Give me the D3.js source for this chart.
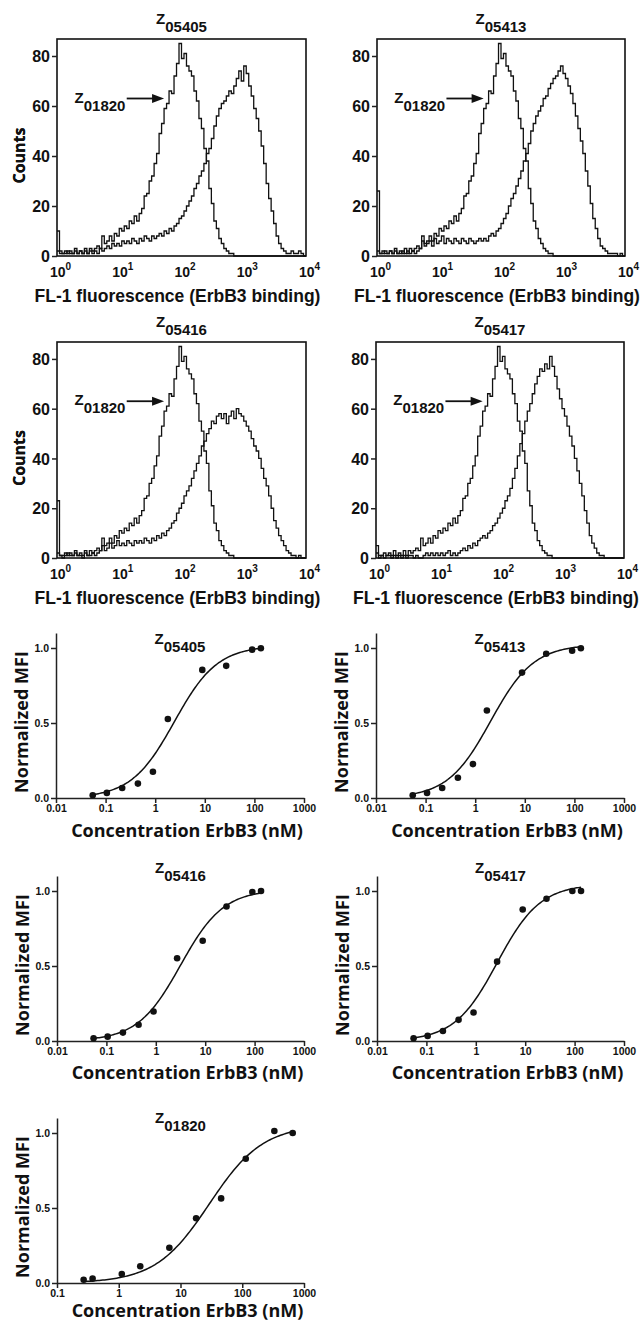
<!DOCTYPE html>
<html>
<head>
<meta charset="utf-8">
<script src="https://cdn.jsdelivr.net/npm/d3@7"></script>
<style>
    body { margin: 0; background: #fff; }
    svg { display: block; }
    .hist-line { fill: none; stroke: #111; stroke-width: 1.3; }
    .frame { fill: none; stroke: #111; stroke-width: 1.6; }
    .fit-line { fill: none; stroke: #111; stroke-width: 1.5; }
    .arial { font-family: "Liberation Sans", Arial, sans-serif; font-weight: bold; fill: #111; }
    .myriad { font-family: "Open Sans", "Noto Sans", sans-serif; font-weight: bold; fill: #111; }
    .axis path, .axis line { stroke: #222; stroke-width: 1.5; }
</style>
</head>
<body>
<svg id="figure" width="643" height="1324"></svg>
<script>
// ---- histogram data: counts per channel, channels every 0.04 decade from 10^0 to 10^4 ----
const binWidth = 0.04;
const decades = [0, 1, 2, 3, 4];
const countTicks = [0, 20, 40, 60, 80];
const countMax = 86.8;

// control binder, shown in all four histograms
const counts01820 = [
    2, 1, 1, 2, 1, 2, 1, 3, 1, 2,
    1, 3, 1, 3, 2, 3, 4, 3, 8, 5,
    6, 8, 6, 9, 8, 11, 10, 12, 11, 14,
    13, 16, 14, 17, 19, 24, 25, 30, 32, 37,
    41, 49, 53, 59, 61, 66, 65, 72, 77, 85,
    79, 81, 76, 74, 72, 66, 62, 55, 51, 43,
    38, 27, 21, 14, 11, 7, 5, 3, 2, 1,
    1, 0, 0, 0, 0, 0, 0, 0, 0, 0,
    0, 0, 0, 0, 0, 0, 0, 0, 0, 0,
    0, 0, 0, 0, 0, 0, 0, 0, 0, 0, 0
];
const counts05405 = [
    10, 2, 1, 1, 2, 1, 1, 2, 1, 2,
    1, 2, 1, 2, 1, 2, 1, 3, 2, 3,
    4, 3, 5, 4, 5, 4, 6, 5, 6, 5,
    7, 6, 5, 7, 6, 8, 7, 6, 8, 7,
    8, 9, 8, 10, 9, 11, 10, 12, 13, 15,
    16, 18, 20, 22, 24, 27, 29, 32, 34, 37,
    41, 43, 47, 52, 56, 59, 61, 62, 64, 66,
    65, 68, 71, 74, 70, 76, 73, 68, 64, 59,
    55, 50, 44, 37, 29, 23, 18, 13, 8, 5,
    3, 2, 1, 1, 2, 1, 1, 2, 1, 0, 0
];
const counts05413 = [
    26, 1, 2, 1, 1, 2, 1, 2, 1, 1,
    2, 1, 2, 1, 2, 1, 2, 3, 6, 4,
    5, 6, 4, 7, 5, 6, 8, 5, 7, 6,
    5, 7, 6, 5, 7, 6, 5, 7, 6, 5,
    6, 7, 6, 7, 6, 8, 9, 8, 10, 11,
    13, 15, 17, 20, 23, 25, 28, 31, 34, 38,
    41, 45, 50, 53, 56, 58, 60, 63, 64, 67,
    69, 71, 72, 74, 76, 73, 71, 68, 65, 61,
    56, 51, 46, 41, 34, 28, 21, 15, 11, 7,
    4, 3, 2, 1, 1, 1, 1, 0, 1, 0, 0
];
const counts05416 = [
    23, 1, 0, 1, 2, 1, 1, 2, 1, 1,
    0, 2, 1, 1, 2, 1, 2, 3, 5, 3,
    4, 6, 4, 5, 7, 5, 6, 5, 7, 6,
    5, 7, 6, 7, 6, 8, 7, 6, 8, 7,
    9, 8, 10, 9, 11, 12, 14, 15, 18, 20,
    22, 25, 27, 29, 32, 35, 38, 41, 45, 47,
    50, 52, 55, 54, 57, 58, 56, 58, 54, 57,
    59, 56, 60, 58, 57, 55, 53, 51, 48, 45,
    43, 40, 36, 32, 29, 25, 20, 15, 12, 9,
    7, 5, 3, 2, 1, 1, 0, 1, 0, 0, 0
];
const counts05417 = [
    5, 0, 1, 0, 1, 1, 0, 1, 0, 1,
    0, 1, 0, 1, 1, 0, 1, 0, 0, 1,
    2, 1, 2, 1, 2, 1, 2, 1, 2, 3,
    1, 2, 1, 2, 3, 4, 3, 5, 4, 6,
    5, 7, 8, 9, 8, 10, 11, 13, 14, 16,
    18, 20, 23, 25, 28, 32, 36, 41, 46, 50,
    55, 59, 62, 66, 70, 73, 76, 75, 78, 76,
    81, 77, 73, 68, 64, 60, 57, 53, 49, 45,
    40, 35, 30, 25, 19, 14, 9, 6, 4, 2,
    1, 1, 0, 0, 0, 0, 0, 0, 0, 0, 0
];

// ---- binding titration data ----
const mfiTicks = [0, 0.5, 1.0];
const concTicksA = [0.01, 0.1, 1, 10, 100, 1000];
const concTicksB = [0.1, 1, 10, 100, 1000];

const conc05405 = [0.055, 0.106, 0.216, 0.448, 0.90, 1.8, 8.9, 27, 90, 135];
const mfi05405 = [0.018, 0.034, 0.067, 0.096, 0.175, 0.527, 0.854, 0.881, 0.989, 0.998];
const conc05413 = [0.055, 0.107, 0.216, 0.448, 0.90, 1.72, 8.8, 27, 90, 135];
const mfi05413 = [0.018, 0.034, 0.067, 0.135, 0.226, 0.583, 0.836, 0.962, 0.982, 0.998];
const conc05416 = [0.055, 0.106, 0.216, 0.448, 0.90, 2.7, 8.9, 27, 90, 135];
const mfi05416 = [0.018, 0.029, 0.056, 0.108, 0.197, 0.552, 0.668, 0.897, 0.993, 1.0];
const conc05417 = [0.055, 0.106, 0.216, 0.448, 0.90, 2.7, 8.9, 27, 90, 135];
const mfi05417 = [0.018, 0.034, 0.067, 0.141, 0.19, 0.529, 0.877, 0.948, 1.0, 1.0];
const conc01820 = [0.27, 0.377, 1.12, 2.23, 6.6, 17.9, 45.5, 114, 331, 656];
const mfi01820 = [0.022, 0.029, 0.06, 0.112, 0.235, 0.432, 0.564, 0.828, 1.013, 1.0];

const svg = d3.select("#figure");

/**
 * Draws one flow cytometry histogram with the control overlaid
 */
function drawHistogram(box, name, sample) {
    const g = svg.append("g");

    const x = d3.scaleLog().domain([1, 1e4]).range([box.left, box.right]);
    const y = d3.scaleLinear().domain([0, countMax]).range([box.bottom, box.top]);

    const toBins = counts => counts.map((c, i) => ({fl: Math.pow(10, i * binWidth), count: c}));
    const line = d3.line()
        .x(d => x(d.fl))
        .y(d => y(d.count))
        .curve(d3.curveStepAfter);

    g.append("path").attr("class", "hist-line").attr("d", line(toBins(counts01820)));
    g.append("path").attr("class", "hist-line").attr("d", line(toBins(sample)));

    g.append("rect")
        .attr("class", "frame")
        .attr("x", box.left).attr("y", box.top)
        .attr("width", box.right - box.left).attr("height", box.bottom - box.top);

    // y axis
    const yAxis = g.append("g")
        .attr("class", "axis")
        .attr("transform", `translate(${box.left},0)`)
        .call(d3.axisLeft(y).tickValues(countTicks).tickSize(5).tickPadding(2));
    yAxis.select(".domain").remove();
    yAxis.selectAll("text")
        .attr("class", "arial")
        .style("font-size", "16px")
        .attr("dy", "0.36em");

    // decade labels with superscripts
    g.selectAll(".decade")
        .data(decades)
        .join("text")
        .attr("class", "decade arial")
        .attr("x", d => x(Math.pow(10, d)) - 7)
        .attr("y", box.bottom + 21)
        .style("font-size", "14px")
        .call(t => {
            t.append("tspan").text("10");
            t.append("tspan").attr("dy", -7).style("font-size", "10px").text(d => d);
        });

    g.append("text")
        .attr("class", "arial")
        .attr("x", (box.left + box.right) / 2 - 4)
        .attr("y", box.bottom + 46)
        .style("font-size", "17.5px")
        .style("text-anchor", "middle")
        .text("FL-1 fluorescence (ErbB3 binding)");

    g.append("text")
        .attr("class", "myriad")
        .attr("transform", "rotate(-90)")
        .attr("x", -((box.top + box.bottom) / 2 + 8))
        .attr("y", 25)
        .style("font-size", "16px")
        .style("text-anchor", "middle")
        .text("Counts");

    // panel title
    const title = g.append("text")
        .attr("class", "arial")
        .attr("x", (box.left + box.right) / 2)
        .attr("y", box.top - 15)
        .style("font-size", "15px")
        .style("text-anchor", "middle");
    title.append("tspan").text("Z");
    title.append("tspan").attr("dy", 8).text(name);

    // arrow pointing at the control histogram
    const ay = y(63);
    const ax1 = x(Math.pow(10, 1.12));
    const ax2 = x(Math.pow(10, 1.72));
    g.append("line")
        .attr("x1", ax1).attr("y1", ay)
        .attr("x2", ax2 - 8).attr("y2", ay)
        .attr("stroke", "#111").attr("stroke-width", 1.8);
    g.append("path")
        .attr("d", `M${ax2},${ay} L${ax2 - 12},${ay - 4.5} L${ax2 - 12},${ay + 4.5} Z`)
        .attr("fill", "#111");
    const label = g.append("text")
        .attr("class", "arial")
        .attr("x", x(Math.pow(10, 1.1)))
        .attr("y", ay + 4)
        .style("font-size", "15px")
        .style("text-anchor", "end");
    label.append("tspan").text("Z");
    label.append("tspan").attr("dy", 8).text("01820");
}

/**
 * least squares fit of a standard-slope dose response curve (bottom 0, Hill slope 1)
 */
function fitDoseResponse(conc, mfi) {
    const lx = conc.map(Math.log10);
    let best = {sse: Infinity};
    for (let top = 0.9; top <= 1.15; top += 0.002) {
        for (let ec = d3.min(lx); ec <= d3.max(lx); ec += 0.005) {
            let sse = 0;
            for (let i = 0; i < lx.length; i++) {
                const r = mfi[i] - top / (1 + Math.pow(10, ec - lx[i]));
                sse += r * r;
            }
            if (sse < best.sse) best = {sse, top, ec};
        }
    }
    return best;
}

/**
 * Draws one binding titration panel
 */
function drawTitration(frame, name, conc, mfi, concTicks) {
    const g = svg.append("g");

    const x = d3.scaleLog()
        .domain([concTicks[0], concTicks[concTicks.length - 1]])
        .range([frame.left, frame.right]);
    const y = d3.scaleLinear().domain([0, 1.1]).range([frame.bottom, frame.top]);

    const xAxis = g.append("g")
        .attr("class", "axis")
        .attr("transform", `translate(0,${frame.bottom})`)
        .call(d3.axisBottom(x).tickValues(concTicks).tickFormat(d3.format("~g")).tickSize(5).tickSizeOuter(0).tickPadding(2));
    xAxis.selectAll("text").attr("class", "arial").style("font-size", "10.5px");

    const yAxis = g.append("g")
        .attr("class", "axis")
        .attr("transform", `translate(${frame.left},0)`)
        .call(d3.axisLeft(y).tickValues(mfiTicks).tickFormat(d3.format(".1f")).tickSize(5).tickSizeOuter(0).tickPadding(2));
    yAxis.selectAll("text").attr("class", "arial").style("font-size", "10.5px");

    const fit = fitDoseResponse(conc, mfi);
    const lo = Math.log10(d3.min(conc));
    const hi = Math.log10(d3.max(conc));
    const curve = d3.range(121).map(i => {
        const lc = lo + i / 120 * (hi - lo);
        return {c: Math.pow(10, lc), v: fit.top / (1 + Math.pow(10, fit.ec - lc))};
    });
    g.append("path")
        .attr("class", "fit-line")
        .attr("d", d3.line().x(d => x(d.c)).y(d => y(d.v))(curve));

    g.selectAll("circle")
        .data(conc.map((c, i) => ({c, v: mfi[i]})))
        .join("circle")
        .attr("cx", d => x(d.c))
        .attr("cy", d => y(d.v))
        .attr("r", 3.3)
        .attr("fill", "#111");

    g.append("text")
        .attr("class", "myriad")
        .attr("x", (frame.left + frame.right) / 2 + 7)
        .attr("y", frame.labelY)
        .style("font-size", "18px")
        .style("text-anchor", "middle")
        .text("Concentration ErbB3 (nM)");

    g.append("text")
        .attr("class", "myriad")
        .attr("transform", "rotate(-90)")
        .attr("x", -(frame.bottom - 76))
        .attr("y", frame.left - 28)
        .style("font-size", "18px")
        .style("text-anchor", "middle")
        .text("Normalized MFI");

    const title = g.append("text")
        .attr("class", "arial")
        .attr("x", (frame.left + frame.right) / 2)
        .attr("y", frame.titleY)
        .style("font-size", "15px")
        .style("text-anchor", "middle");
    title.append("tspan").text("Z");
    title.append("tspan").attr("dy", 8).text(name);
}

drawHistogram({left: 57, right: 306, top: 39, bottom: 256}, "05405", counts05405);
drawHistogram({left: 377, right: 625, top: 39, bottom: 256}, "05413", counts05413);
drawHistogram({left: 57, right: 306, top: 342, bottom: 558}, "05416", counts05416);
drawHistogram({left: 376, right: 624, top: 342, bottom: 558}, "05417", counts05417);

drawTitration({left: 56, right: 304, top: 633, bottom: 798, titleY: 644, labelY: 837}, "05405", conc05405, mfi05405, concTicksA);
drawTitration({left: 376, right: 624, top: 633, bottom: 798, titleY: 644, labelY: 837}, "05413", conc05413, mfi05413, concTicksA);
drawTitration({left: 57, right: 304, top: 876, bottom: 1041, titleY: 873, labelY: 1079}, "05416", conc05416, mfi05416, concTicksA);
drawTitration({left: 377, right: 624, top: 876, bottom: 1041, titleY: 873, labelY: 1079}, "05417", conc05417, mfi05417, concTicksA);
drawTitration({left: 57, right: 304, top: 1118, bottom: 1283, titleY: 1123, labelY: 1317}, "01820", conc01820, mfi01820, concTicksB);
</script>
</body>
</html>
